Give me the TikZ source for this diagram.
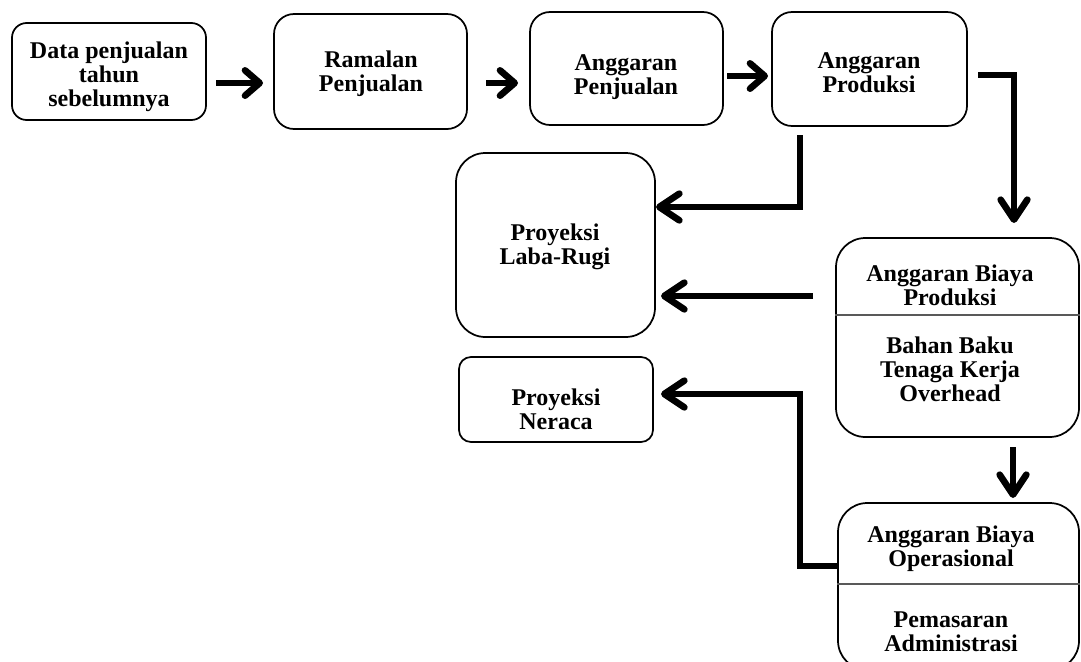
\documentclass[tikz,border=0pt]{standalone}
\usepackage{fontspec}
\setmainfont{Liberation Serif}
\usetikzlibrary{arrows.meta}
\begin{document}
\begin{tikzpicture}[x=0.75pt,y=-0.75pt,
  box/.style={draw=black, line width=1.3pt, fill=white, inner sep=0pt},
  txt/.style={align=center, inner sep=0pt, font=\fontsize{18}{18}\selectfont\bfseries},
  arrs/.style={line width=5pt, line cap=butt, -{Straight Barb[round, length=11pt, width=19pt]}},
  arrl/.style={line width=5pt, line cap=butt, line join=miter, -{Straight Barb[round, length=15pt, width=20pt]}},
  divline/.style={draw=black!65, line width=2pt}]
\useasboundingbox (0,0) rectangle (1081,661);
\fill[white] (0,0) rectangle (1081,661);

% boxes
\node[box, rounded corners=11pt, minimum width=145.5pt, minimum height=72.75pt] (b1) at (109,71.5) {};
\node[box, rounded corners=15pt, minimum width=144.75pt, minimum height=86.25pt] (b2) at (370.5,71.5) {};
\node[box, rounded corners=15pt, minimum width=144.75pt, minimum height=84.75pt] (b3) at (626.5,68.5) {};
\node[box, rounded corners=15pt, minimum width=146.25pt, minimum height=85.5pt] (b4) at (869.5,69) {};
\node[box, rounded corners=22pt, minimum width=149.25pt, minimum height=138pt] (lr) at (555.5,245) {};
\node[box, rounded corners=9pt, minimum width=145.5pt, minimum height=63.75pt] (nr) at (556,399.5) {};
\node[box, rounded corners=22pt, minimum width=182.25pt, minimum height=149.25pt] (abp) at (957.5,337.5) {};
\node[box, rounded corners=22pt, minimum width=180.75pt, minimum height=125.25pt] (abo) at (958.5,586.5) {};

% dividers
\draw[divline] (abp.west |- 0,315) -- (abp.east |- 0,315);
\draw[divline] (abo.west |- 0,584) -- (abo.east |- 0,584);

% texts
\node[txt] (t1) at (109,77) {Data penjualan\\tahun\\sebelumnya};
\node[txt] (t2) at (371,74) {Ramalan\\Penjualan};
\node[txt] (t3) at (626,77) {Anggaran\\Penjualan};
\node[txt] (t4) at (869,73) {Anggaran\\Produksi};
\node[txt] (tlr) at (555,247) {Proyeksi\\Laba-Rugi};
\node[txt] (tnr) at (556,409) {Proyeksi\\Neraca};
\node[txt] (tp1) at (950,285) {Anggaran Biaya\\Produksi};
\node[txt] (tp2) at (950,369) {Bahan Baku\\Tenaga Kerja\\Overhead};
\node[txt] (to1) at (951,549) {Anggaran Biaya\\Operasional};
\node[txt] (to2) at (951,632) {Pemasaran\\Administrasi};

% connector end points
\coordinate (a1s) at (216,83);  \coordinate (a1e) at (263,83);
\coordinate (a2s) at (486,83);  \coordinate (a2e) at (518,83);
\coordinate (a3s) at (727,76);  \coordinate (a3e) at (768,76);
\coordinate (e1s) at (978,75);  \coordinate (e1e) at (1014,223);
\coordinate (e2s) at (800,135); \coordinate (e2e) at (656,207);
\coordinate (e3s) at (813,296); \coordinate (e3e) at (661,296);
\coordinate (e4s) at (838,566); \coordinate (e4c) at (800,394); \coordinate (e4e) at (661,394);
\coordinate (e5s) at (1013,447); \coordinate (e5e) at (1013,498);

% connectors
\draw[arrs] (a1s) -- (a1e);
\draw[arrs] (a2s) -- (a2e);
\draw[arrs] (a3s) -- (a3e);
\draw[arrl] (e1s) -| (e1e);
\draw[arrl] (e2s) |- (e2e);
\draw[arrl] (e3s) -- (e3e);
\draw[arrl] (e4s) -| (e4c) -- (e4e);
\draw[arrl] (e5s) -- (e5e);
\end{tikzpicture}
\end{document}
